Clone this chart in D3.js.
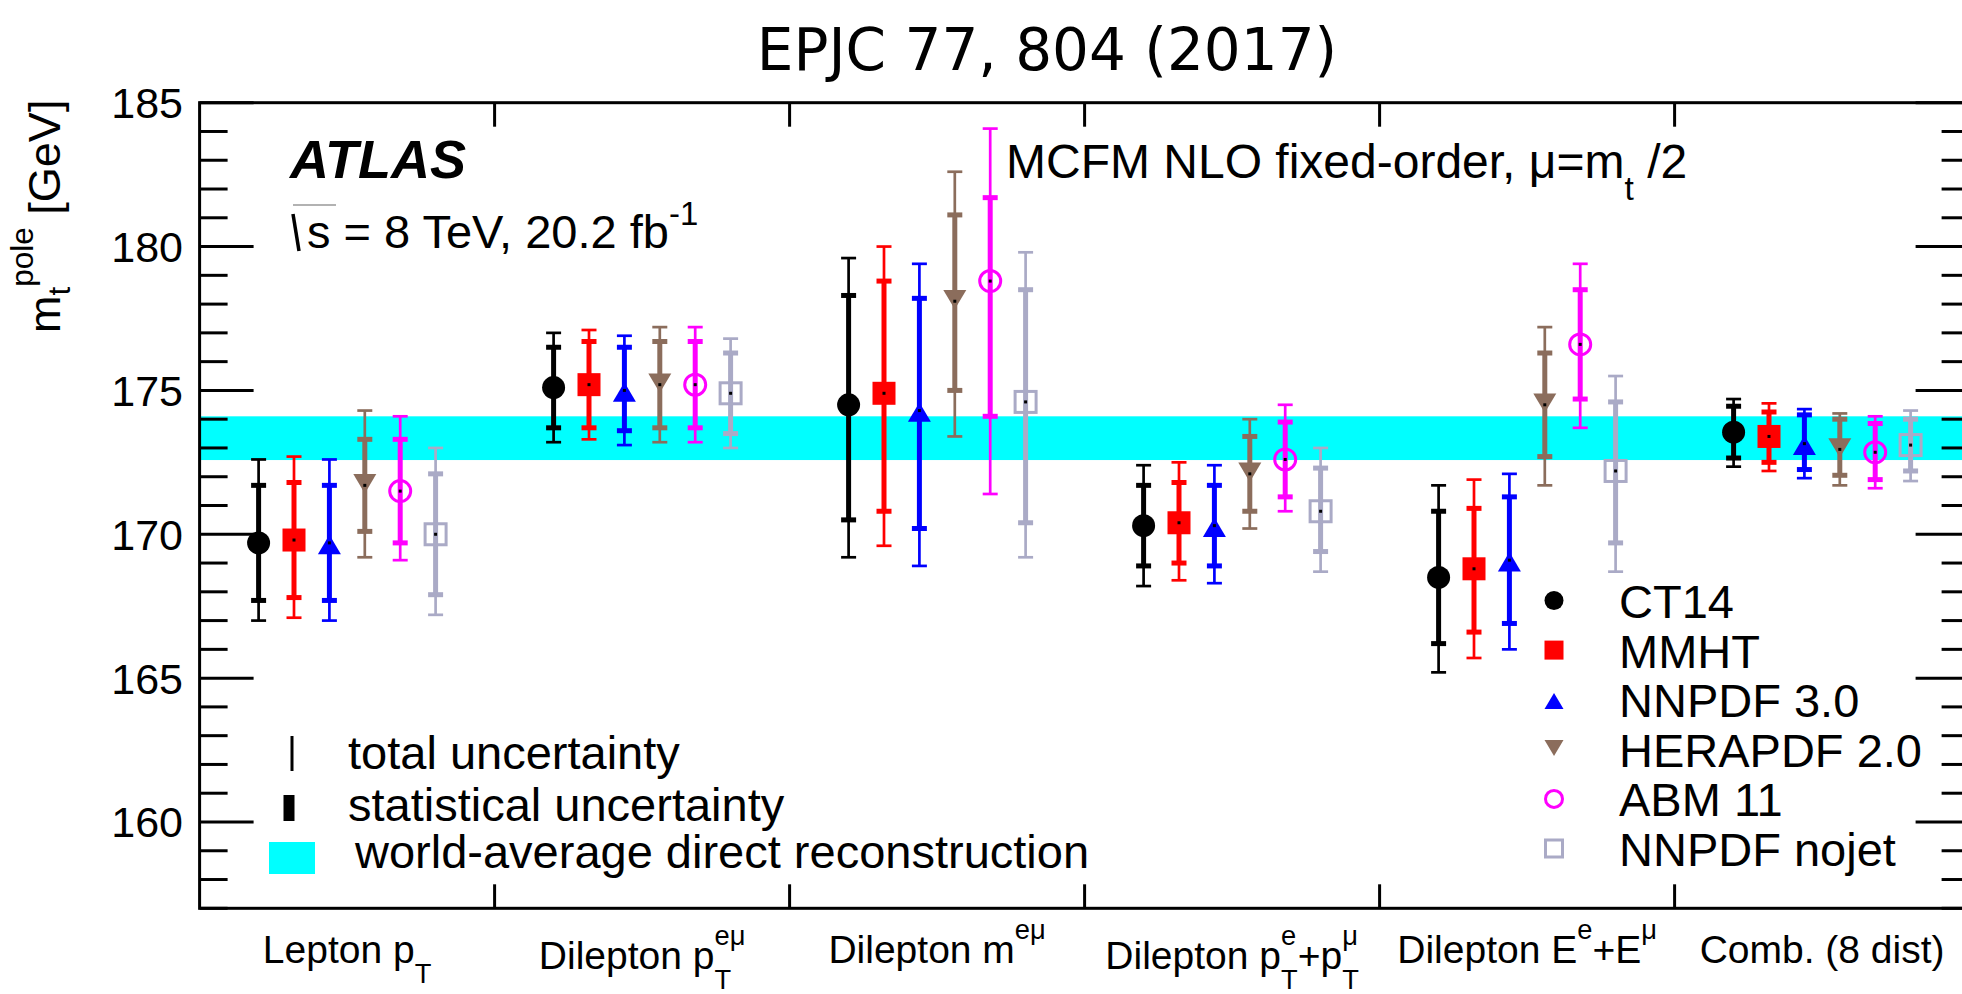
<!DOCTYPE html>
<html>
<head>
<meta charset="utf-8">
<script src="https://cdn.jsdelivr.net/npm/d3@7"></script>
<style>
  html, body { margin: 0; padding: 0; background: #fff; }
  svg { display: block; }
  text { font-family: "Liberation Sans", Arial, Helvetica, sans-serif; fill: #000; }
</style>
</head>
<body>
<svg id="chart" width="1962" height="994"></svg>
<script>
// ---------------- DATA ----------------
const groupLabels = ["Lepton p_{T}", "Dilepton p_{T}^{eμ}", "Dilepton m^{eμ}",
                     "Dilepton p_{T}^{e}+p_{T}^{μ}", "Dilepton E^{e}+E^{μ}", "Comb. (8 dist)"];
const pdfNames  = ["CT14", "MMHT", "NNPDF 3.0", "HERAPDF 2.0", "ABM 11", "NNPDF nojet"];
const pdfColors = ["#000000", "#ff0000", "#0000ff", "#8b6d5c", "#ff00ff", "#aaaac6"];
const pdfShapes = ["circle", "square", "triangleUp", "triangleDown", "openCircle", "openSquare"];

// central values [pdf][group]
const central = [
  [169.7, 175.1, 174.5, 170.3, 168.5, 173.55],
  [169.8, 175.2, 174.9, 170.4, 168.8, 173.4],
  [169.7, 175.0, 174.3, 170.3, 169.1, 173.15],
  [171.7, 175.2, 178.1, 172.1, 174.5, 172.95],
  [171.5, 175.2, 178.8, 172.6, 176.6, 172.85],
  [170.0, 174.9, 174.6, 170.8, 172.2, 173.1]
];
const statHigh = [
  [171.7, 176.5, 178.3, 171.7, 170.8, 174.45],
  [171.8, 176.7, 178.8, 171.8, 170.9, 174.25],
  [171.7, 176.5, 178.2, 171.7, 171.3, 174.15],
  [173.3, 176.7, 181.1, 173.4, 176.3, 174.0],
  [173.3, 176.7, 181.7, 173.9, 178.5, 173.85],
  [172.1, 176.3, 178.5, 172.3, 174.6, 174.0]
];
const statLow = [
  [167.7, 173.7, 170.5, 168.9, 166.2, 172.65],
  [167.8, 173.7, 170.8, 169.0, 166.6, 172.5],
  [167.7, 173.6, 170.2, 168.9, 166.9, 172.25],
  [170.1, 173.7, 175.0, 170.8, 172.7, 172.05],
  [169.7, 173.7, 174.1, 171.3, 174.7, 171.9],
  [167.9, 173.5, 170.4, 169.4, 169.7, 172.2]
];
const totalHigh = [
  [172.6, 177.0, 179.6, 172.4, 171.7, 174.7],
  [172.7, 177.1, 180.0, 172.5, 171.9, 174.55],
  [172.6, 176.9, 179.4, 172.4, 172.1, 174.35],
  [174.3, 177.2, 182.6, 174.0, 177.2, 174.2],
  [174.1, 177.2, 184.1, 174.5, 179.4, 174.1],
  [173.0, 176.8, 179.8, 173.0, 175.5, 174.3]
];
const totalLow = [
  [167.0, 173.2, 169.2, 168.2, 165.2, 172.35],
  [167.1, 173.3, 169.6, 168.4, 165.7, 172.2],
  [167.0, 173.1, 168.9, 168.3, 166.0, 171.95],
  [169.2, 173.2, 173.4, 170.2, 171.7, 171.7],
  [169.1, 173.2, 171.4, 170.8, 173.7, 171.6],
  [167.2, 173.0, 169.2, 168.7, 168.7, 171.85]
];
const worldAverage = [172.58, 174.10];
const yMajorTicks = [160, 165, 170, 175, 180, 185];
const yDomain = [157, 185];
const yLabel = "m_{t}^{pole} [GeV]";
const title = "EPJC 77, 804 (2017)";
const atlasLabel = "ATLAS";
const energyLabel = "s = 8 TeV, 20.2 fb^{-1}";
const mcfmLabel = "MCFM NLO fixed-order, μ=m_{t} /2";
const legendLeft = ["total uncertainty", "statistical uncertainty", "world-average direct reconstruction"];

// ---------------- LAYOUT ----------------
const svg = d3.select("#chart");
const plot = { left: 199.6, right: 1969.6, top: 102.7, bottom: 908.3 };
const x = d3.scaleLinear().domain([0, groupLabels.length]).range([plot.left, plot.right]);
const y = d3.scaleLinear().domain(yDomain).range([plot.bottom, plot.top]);
const offsetStep = 0.12;

svg.append("rect").attr("width", 1962).attr("height", 994).attr("fill", "#fff");

// rich text helper (ROOT-like _{} and ^{} markup)
function parseMarkup(s) {
  const segs = []; let i = 0, buf = "";
  while (i < s.length) {
    const c = s[i];
    if ((c === "_" || c === "^") && s[i + 1] === "{") {
      if (buf) { segs.push({ t: buf, k: "n" }); buf = ""; }
      const j = s.indexOf("}", i + 2);
      segs.push({ t: s.slice(i + 2, j), k: c === "_" ? "sub" : "sup" });
      i = j + 1;
    } else { buf += c; i++; }
  }
  if (buf) segs.push({ t: buf, k: "n" });
  return segs;
}
function drawRich(parent, str, px, py, size, anchor, extra) {
  extra = extra || {};
  const g = parent.append("g");
  const segs = parseMarkup(str);
  let cursor = 0, prevScript = null;
  segs.forEach(s => {
    const fs = s.k === "n" ? size : size * (extra.scriptScale || 0.7);
    const dy = s.k === "sub" ? size * (extra.subShift || 0.52) : s.k === "sup" ? -size * (extra.supShift || 0.6) : 0;
    const t = g.append("text").attr("font-size", fs).attr("y", dy)
      .attr("font-weight", extra.weight || null).attr("font-style", extra.style || null)
      .style("white-space", "pre").text(s.t);
    const w = t.node().getComputedTextLength();
    if (!extra.noStack && s.k !== "n" && prevScript && prevScript.k !== s.k) {
      t.attr("x", prevScript.x);
      cursor = Math.max(cursor, prevScript.x + w);
      prevScript = null;
    } else {
      t.attr("x", cursor);
      if (s.k !== "n") prevScript = { k: s.k, x: cursor, w: w }; else prevScript = null;
      cursor += w;
    }
  });
  let shift = 0;
  if (anchor === "middle") shift = -cursor / 2;
  if (anchor === "end") shift = -cursor;
  g.attr("transform", (extra.rotate ? `translate(${px},${py}) rotate(${extra.rotate}) translate(${shift},0)` : `translate(${px + shift},${py})`));
  return g;
}

// title
svg.append("text").attr("x", 1047).attr("y", 70).attr("text-anchor", "middle")
  .style("font-family", "'DejaVu Sans', Verdana, sans-serif").attr("font-size", 58).text(title);

// world average band
svg.append("rect")
  .attr("x", plot.left).attr("width", plot.right - plot.left)
  .attr("y", y(worldAverage[1])).attr("height", y(worldAverage[0]) - y(worldAverage[1]))
  .attr("fill", "#00ffff");

// markers
function drawMarker(g, shape, cx, cy, size, color) {
  const h = size / 2;
  if (shape === "circle") g.append("circle").attr("cx", cx).attr("cy", cy).attr("r", h).attr("fill", color);
  else if (shape === "square") g.append("rect").attr("x", cx - h).attr("y", cy - h).attr("width", size).attr("height", size).attr("fill", color);
  else if (shape === "triangleUp") g.append("path").attr("d", `M${cx},${cy - size * 0.35}L${cx + h},${cy + size * 0.49}L${cx - h},${cy + size * 0.49}Z`).attr("fill", color);
  else if (shape === "triangleDown") g.append("path").attr("d", `M${cx},${cy + size * 0.35}L${cx + h},${cy - size * 0.49}L${cx - h},${cy - size * 0.49}Z`).attr("fill", color);
  else if (shape === "openCircle") g.append("circle").attr("cx", cx).attr("cy", cy).attr("r", h - 1).attr("fill", "none").attr("stroke", color).attr("stroke-width", 3);
  else if (shape === "openSquare") g.append("rect").attr("x", cx - h + 1).attr("y", cy - h + 1).attr("width", size - 2).attr("height", size - 2).attr("fill", "none").attr("stroke", color).attr("stroke-width", 3);
}

const pts = svg.append("g");
pdfNames.forEach((name, k) => {
  const color = pdfColors[k];
  groupLabels.forEach((lab, gi) => {
    const cx = x(gi + 0.5 + (k - 2.5) * offsetStep);
    const g = pts.append("g");
    const capW = 7.5;
    // total uncertainty
    g.append("line").attr("x1", cx).attr("x2", cx).attr("y1", y(totalLow[k][gi])).attr("y2", y(totalHigh[k][gi]))
      .attr("stroke", color).attr("stroke-width", 2.7);
    [totalLow[k][gi], totalHigh[k][gi]].forEach(v => g.append("line")
      .attr("x1", cx - capW).attr("x2", cx + capW).attr("y1", y(v)).attr("y2", y(v))
      .attr("stroke", color).attr("stroke-width", 2.7));
    // statistical uncertainty
    g.append("line").attr("x1", cx).attr("x2", cx).attr("y1", y(statLow[k][gi])).attr("y2", y(statHigh[k][gi]))
      .attr("stroke", color).attr("stroke-width", 5);
    [statLow[k][gi], statHigh[k][gi]].forEach(v => g.append("line")
      .attr("x1", cx - capW).attr("x2", cx + capW).attr("y1", y(v)).attr("y2", y(v))
      .attr("stroke", color).attr("stroke-width", 5));
    const cy = y(central[k][gi]);
    drawMarker(g, pdfShapes[k], cx, cy, 23, color);
    g.append("rect").attr("x", cx - 1.5).attr("y", cy - 1.5).attr("width", 3).attr("height", 3).attr("fill", "#000");
  });
});

// frame and ticks
const axes = svg.append("g").attr("stroke", "#000").attr("stroke-width", 3);
axes.append("rect").attr("x", plot.left).attr("y", plot.top)
  .attr("width", plot.right - plot.left).attr("height", plot.bottom - plot.top).attr("fill", "none");
d3.range(yDomain[0], yDomain[1] + 1, 1).forEach(v => {
  const major = yMajorTicks.includes(v);
  const len = major ? 54 : 28;
  axes.append("line").attr("x1", plot.left).attr("x2", plot.left + len).attr("y1", y(v)).attr("y2", y(v));
  axes.append("line").attr("x1", plot.right).attr("x2", plot.right - len).attr("y1", y(v)).attr("y2", y(v));
});
d3.range(1, groupLabels.length).forEach(v => {
  axes.append("line").attr("x1", x(v)).attr("x2", x(v)).attr("y1", plot.bottom).attr("y2", plot.bottom - 24);
  axes.append("line").attr("x1", x(v)).attr("x2", x(v)).attr("y1", plot.top).attr("y2", plot.top + 24);
});
// y tick labels
svg.append("g").selectAll("text").data(yMajorTicks).join("text")
  .attr("x", 183).attr("y", d => y(d)).attr("dy", "0.36em").attr("text-anchor", "end")
  .attr("font-size", 43).text(d => d);

// y label (rotated, reads bottom to top)
drawRich(svg, yLabel, 60, 333, 45, "start", { rotate: -90, noStack: true, scriptScale: 0.7, supShift: 0.6, subShift: 0.22 });

// x labels
groupLabels.forEach((lab, gi) => {
  const segs = parseMarkup(lab);
  const both = segs.some(s => s.k === "sub") && segs.some(s => s.k === "sup");
  drawRich(svg, lab, x(gi + 0.5), both ? 969 : 963, 39, "middle", { subShift: 0.52, supShift: 0.62 });
});

// ATLAS + energy label
svg.append("text").attr("x", 290).attr("y", 178).attr("font-size", 54)
  .attr("font-weight", "bold").attr("font-style", "italic").text(atlasLabel);
svg.append("path").attr("d", "M293,214 L299,251").attr("stroke", "#000").attr("stroke-width", 3.5).attr("fill", "none");
svg.append("line").attr("x1", 293).attr("x2", 336).attr("y1", 205).attr("y2", 205).attr("stroke", "#999").attr("stroke-width", 1.5);
drawRich(svg, energyLabel, 307, 248, 47, "start", { supShift: 0.5 });

// MCFM label
drawRich(svg, mcfmLabel, 1006, 178, 48, "start", { subShift: 0.46 });

// left legend
const legL = svg.append("g");
legL.append("line").attr("x1", 292).attr("x2", 292).attr("y1", 736).attr("y2", 771).attr("stroke", "#000").attr("stroke-width", 3);
legL.append("rect").attr("x", 283.5).attr("y", 795).attr("width", 11).attr("height", 26).attr("fill", "#000");
legL.append("rect").attr("x", 269).attr("y", 842).attr("width", 46).attr("height", 32).attr("fill", "#00ffff");
[[348, 769], [348, 821], [355, 868]].forEach((p, i) =>
  legL.append("text").attr("x", p[0]).attr("y", p[1]).attr("font-size", 47).text(legendLeft[i]));

// right legend
const legR = svg.append("g");
pdfNames.forEach((name, k) => {
  const base = 618 + k * 49.6;
  drawMarker(legR, pdfShapes[k], 1554, base - 17.5, 19, pdfColors[k]);
  legR.append("text").attr("x", 1619).attr("y", base).attr("font-size", 47).text(name);
});
</script>
</body>
</html>
